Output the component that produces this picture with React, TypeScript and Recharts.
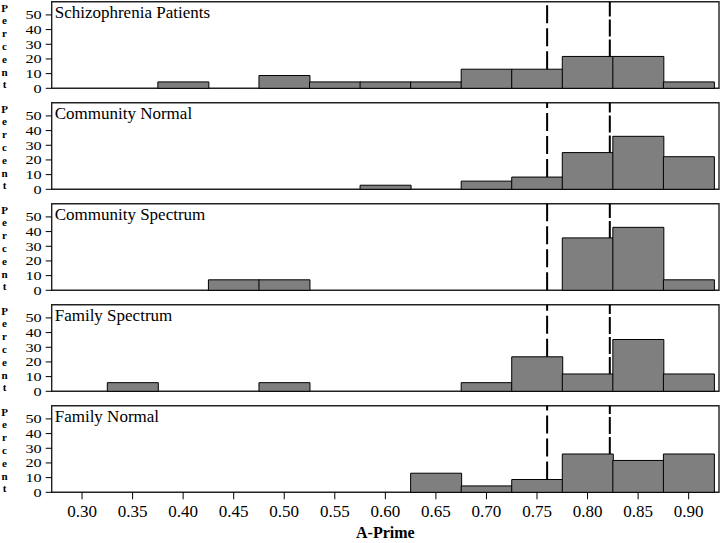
import React from "react";
import { BarChart, Bar, XAxis, YAxis, ReferenceLine, ReferenceArea } from "recharts";

// histogram bin centres (A-Prime), bin width 0.05
const bins = [0.3, 0.35, 0.4, 0.45, 0.5, 0.55, 0.6, 0.65, 0.7, 0.75, 0.8, 0.85, 0.9];
const yTicks = [0, 10, 20, 30, 40, 50];

// percent of each group per bin
const schizophreniaPatients = [0, 0, 4.35, 0, 8.7, 4.35, 4.35, 4.35, 13.0, 13.0, 21.7, 21.7, 4.35];
const communityNormal = [0, 0, 0, 0, 0, 0, 2.78, 0, 5.56, 8.33, 25.0, 36.1, 22.2];
const communitySpectrum = [0, 0, 0, 7.14, 7.14, 0, 0, 0, 0, 0, 35.7, 42.9, 7.14];
const familySpectrum = [0, 5.88, 0, 0, 5.88, 0, 0, 0, 5.88, 23.5, 11.8, 35.3, 11.8];
const familyNormal = [0, 0, 0, 0, 0, 0, 0, 13.0, 4.35, 8.7, 26.1, 21.7, 26.1];

const groups = [
  { title: "Schizophrenia Patients", values: schizophreniaPatients },
  { title: "Community Normal", values: communityNormal },
  { title: "Community Spectrum", values: communitySpectrum },
  { title: "Family Spectrum", values: familySpectrum },
  { title: "Family Normal", values: familyNormal },
];

const dashedCutoff = 0.76;
const solidCutoff = 0.822;

const FONT = "Liberation Serif, Tinos, Times New Roman, Times, serif";
const PANEL_STEP = 101;
const Y_MAX = 59;

// height of the bar underneath a cutoff line, so the line stops on top of it
const barUnder = (values: number[], x: number) => {
  let best = 0;
  bins.forEach((b, i) => {
    if (Math.abs(b - x) <= 0.025) best = values[i];
  });
  return best;
};

const YTick = ({ x, y, payload }: any) => (
  <text
    transform={`translate(${x},${y}) scale(1.3,1)`}
    textAnchor="end"
    dy="0.36em"
    fontSize={12.5}
    fontFamily={FONT}
    fill="#000"
  >
    {payload.value}
  </text>
);

const PercentLabel = ({ viewBox }: any) => (
  <g>
    {"Percent".split("").map((ch, k) => (
      <text
        key={k}
        x={4.5}
        y={viewBox.y + 9.8 + k * 12.8}
        textAnchor="middle"
        fontSize={11}
        fontWeight="bold"
        fontFamily={FONT}
        fill="#000"
      >
        {ch}
      </text>
    ))}
  </g>
);

const TitleLabel = ({ viewBox, value }: any) => (
  <text x={viewBox.x + 3} y={viewBox.y + 16.5} fontSize={17} fontFamily={FONT} fill="#000">
    {value}
  </text>
);

const XLabel = ({ viewBox }: any) => (
  <text
    x={viewBox.x + viewBox.width / 2}
    y={134}
    textAnchor="middle"
    fontSize={16}
    fontWeight="bold"
    fontFamily={FONT}
    fill="#000"
  >
    A-Prime
  </text>
);

function Panel({ title, values, index, last }: any) {
  const data = bins.map((x, i) => ({ x, pct: values[i] }));
  return (
    <div style={{ position: "absolute", left: 0, top: index * PANEL_STEP }}>
      <BarChart
        width={720}
        height={last ? 139 : PANEL_STEP}
        data={data}
        margin={{ top: 1.7, right: 1, bottom: last ? 0 : 12.7, left: 0 }}
        barCategoryGap={0}
        barGap={0}
      >
        <XAxis
          type="number"
          dataKey="x"
          domain={[0.27, 0.93]}
          ticks={bins}
          interval={0}
          hide={!last}
          height={50.7}
          axisLine={false}
          tickSize={7}
          tickMargin={6}
          tickLine={{ stroke: "#000" }}
          tick={{ fontSize: 17, fontFamily: FONT, fill: "#000" }}
          tickFormatter={(v: number) => v.toFixed(2)}
          label={<XLabel />}
        />
        <YAxis
          type="number"
          domain={[0, Y_MAX]}
          ticks={yTicks}
          interval={0}
          width={51.7}
          axisLine={false}
          tickSize={6}
          tickMargin={4}
          tickLine={{ stroke: "#000" }}
          tick={<YTick />}
          label={<PercentLabel />}
        />
        <Bar dataKey="pct" fill="#7f7f7f" stroke="#000" strokeWidth={1} isAnimationActive={false} />
        <ReferenceLine
          segment={[{ x: dashedCutoff, y: barUnder(values, dashedCutoff) }, { x: dashedCutoff, y: Y_MAX }]}
          stroke="#000"
          strokeWidth={2}
          strokeDasharray="18 5"
        />
        <ReferenceLine
          segment={[{ x: solidCutoff, y: barUnder(values, solidCutoff) }, { x: solidCutoff, y: Y_MAX }]}
          stroke="#000"
          strokeWidth={2}
          strokeDasharray="17 3"
        />
        <ReferenceArea
          x1={0.27}
          x2={0.93}
          y1={0}
          y2={Y_MAX}
          fill="none"
          fillOpacity={0}
          stroke="#222"
          strokeWidth={1.4}
          ifOverflow="visible"
          label={<TitleLabel value={title} />}
        />
      </BarChart>
    </div>
  );
}

export default function App() {
  return (
    <div style={{ position: "absolute", left: 0, top: 0, width: 720, height: 543, background: "#fff" }}>
      {groups.map((g, i) => (
        <Panel key={g.title} title={g.title} values={g.values} index={i} last={i === groups.length - 1} />
      ))}
    </div>
  );
}
